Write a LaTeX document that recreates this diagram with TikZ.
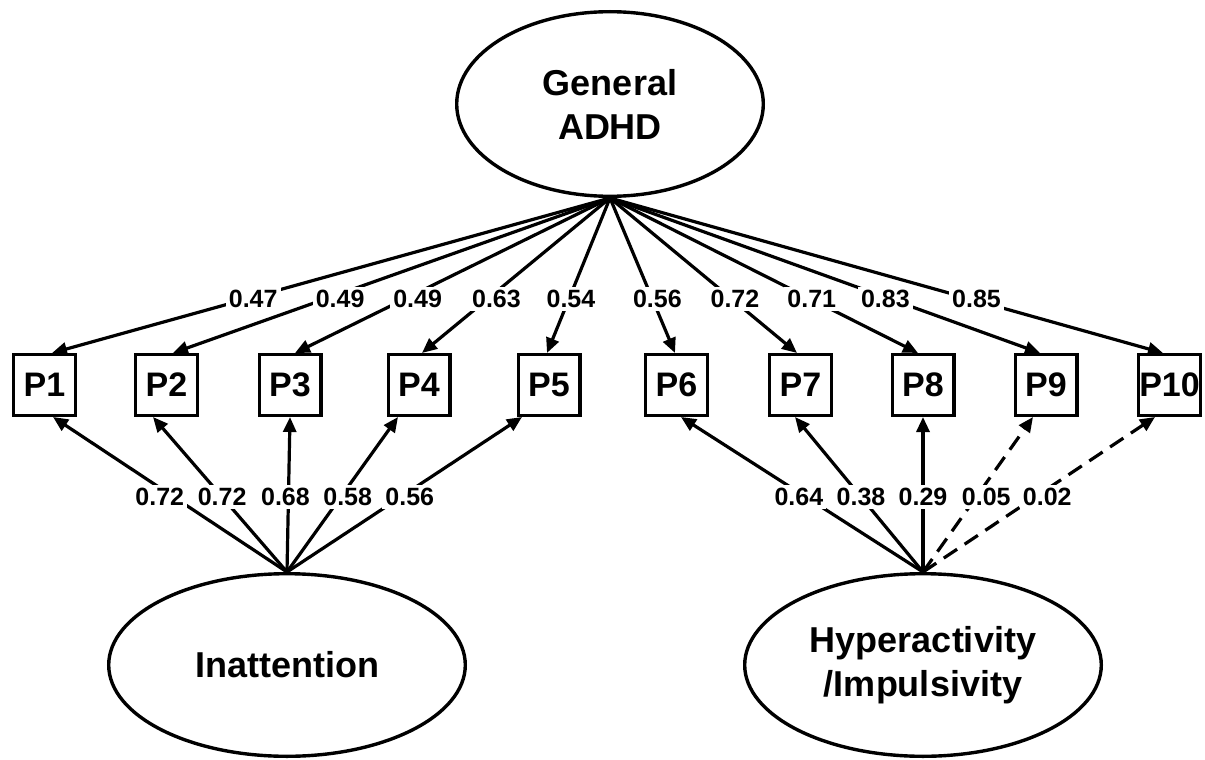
\documentclass[tikz,border=0pt]{standalone}
\usepackage{fontspec}
\setmainfont{Liberation Sans}
\usetikzlibrary{arrows.meta,shapes.geometric}
\begin{document}
\begin{tikzpicture}[x=1pt,y=-1pt,
  latent/.style={draw, ellipse, line width=3.4pt, align=center, inner sep=0pt,
    font=\fontsize{36}{44}\selectfont\bfseries},
  obs/.style={draw, rectangle, line width=3.4pt, minimum width=61.6pt, minimum height=60.6pt,
    inner sep=0pt, font=\fontsize{34}{40}\selectfont\bfseries},
  load/.style={line width=3.2pt, -{Triangle[length=15pt,width=13pt]}},
  weak/.style={load, dash pattern=on 16pt off 9pt},
  lbl/.style={fill=white, inner sep=3pt, font=\fontsize{25}{29}\selectfont\bfseries}
]
\useasboundingbox (0,0) rectangle (1205,760);

% latent variables
\node[latent, minimum width=306.6pt, minimum height=184.6pt] (G) at (610,104) {General\\ADHD};
\node[latent, minimum width=356.6pt, minimum height=182.6pt] (I) at (287,665) {Inattention};
\node[latent, minimum width=356.6pt, minimum height=182.6pt] (H) at (923,665) {Hyperactivity\\/Impulsivity};

% observed items
\foreach \i/\x in {1/44.5,2/166.5,3/290,4/419,5/549,6/676.5,7/800.5,8/923,9/1046,10/1169.5}
  \node[obs] (P\i) at (\x,385) {P\i};

% general factor loadings
\foreach \i/\dx in {1/7.5,2/6.5,3/5,4/3,5/-2,6/-1.5,7/-3.5,8/-5,9/-6,10/-6.5}
  \draw[load] (G.south) -- ([xshift=\dx pt]P\i.north);

% specific factor loadings
\foreach \i/\dx in {1/8.5,2/-13.5,3/0,4/-21,5/-27}
  \draw[load] (I.north) -- ([xshift=\dx pt]P\i.south);
\foreach \i/\dx in {6/4.5,7/-5.5,8/0}
  \draw[load] (H.north) -- ([xshift=\dx pt]P\i.south);
\foreach \i/\dx in {9/-13,10/-14.5}
  \draw[weak] (H.north) -- ([xshift=\dx pt]P\i.south);

% labels (drawn on top)
\foreach \i/\dx/\s/\v in {1/7.5/7/0.47,2/6.5/15/0.49,3/5/13/0.49,4/3/9/0.63,5/-2/2/0.54,
    6/-1.5/5/0.56,7/-3.5/3/0.72,8/-5/1/0.71,9/-6/-5/0.83,10/-6.5/6/0.85}
  \path (G.south) -- node[lbl, pos=0.652, xshift=\s pt] {\v} ([xshift=\dx pt]P\i.north);
\foreach \i/\dx/\s/\v in {1/8.5/-14/0.72,2/-13.5/0/0.72,3/0/-3/0.68,4/-21/7/0.58,5/-27/9/0.56}
  \path (I.north) -- node[lbl, pos=0.484, xshift=\s pt] {\v} ([xshift=\dx pt]P\i.south);
\foreach \i/\dx/\s/\v in {6/4.5/-7/0.64,7/-5.5/0/0.38,8/0/0/0.29,9/-13/10/0.05,10/-14.5/12/0.02}
  \path (H.north) -- node[lbl, pos=0.484, xshift=\s pt] {\v} ([xshift=\dx pt]P\i.south);
\end{tikzpicture}
\end{document}
